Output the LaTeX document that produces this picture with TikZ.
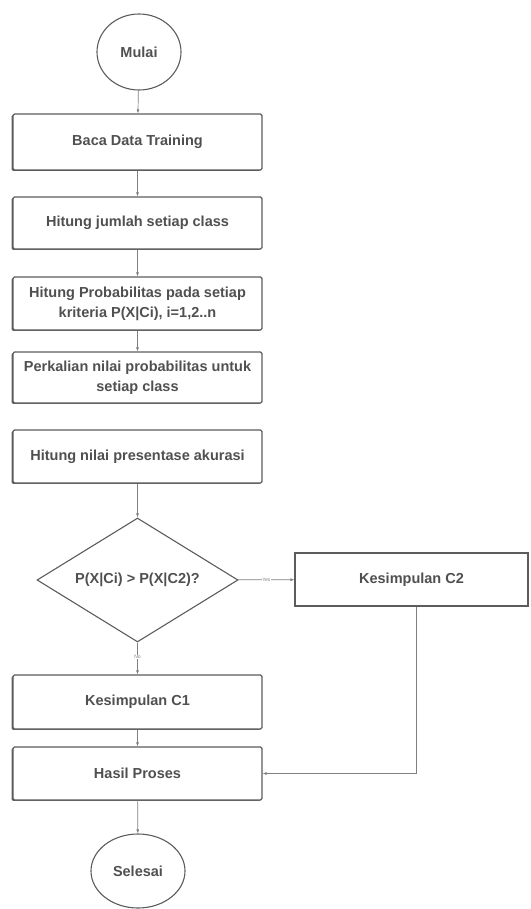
\documentclass[tikz,border=0pt]{standalone}
\usepackage{fontspec}
\setmainfont{Liberation Sans}
\usetikzlibrary{positioning,arrows.meta,shapes.geometric,shadows}
\definecolor{lnGray}{HTML}{808080}
\definecolor{txGray}{HTML}{505050}
\definecolor{bdGray}{HTML}{5C5C5C}

\begin{document}
\begin{tikzpicture}[x=1pt,y=1pt,
  every node/.style={font=\fontsize{14.5}{20}\selectfont\bfseries, text=txGray},
  procbox/.style={draw=bdGray, line width=1.1pt, rounded corners=1.5pt, fill=white, minimum width=249pt, align=center,
    drop shadow={shadow xshift=-1.4pt, shadow yshift=-0.9pt, fill=bdGray, opacity=1}},
  plainbox/.style={draw=bdGray, line width=1.1pt, fill=white, minimum width=233pt, minimum height=53pt},
  termnode/.style={draw=bdGray, line width=1.1pt, ellipse, inner sep=0pt},
  decnode/.style={draw=bdGray, line width=1.1pt, diamond, aspect=1.6, inner sep=0pt, minimum width=201pt, minimum height=124pt},
  flow/.style={draw=lnGray, line width=0.7pt, -{Latex[length=4pt,width=3pt]}},
  lbl/.style={font=\fontsize{5}{6}\selectfont, text=lnGray, fill=white, inner sep=0.6pt}]
\useasboundingbox (0,0) rectangle (530,-909);

% terminals
\node[termnode, minimum width=84pt, minimum height=76pt] (mulai) at (139,-52) {Mulai};
\node[termnode, minimum width=94pt, minimum height=74pt] (selesai) at (138,-871) {Selesai};

% process column
\foreach \nm/\yc/\hgt/\txt in {%
  baca/-142/56/{Baca Data Training},%
  jumlah/-223/52/{Hitung jumlah setiap class},%
  prob/-303.5/53/{Hitung Probabilitas pada setiap\\kriteria P(X|Ci), i=1,2..n},%
  kali/-377.5/51/{Perkalian nilai probabilitas untuk\\setiap class},%
  akurasi/-456.5/53/{Hitung nilai presentase akurasi}%
} {
  \node[procbox, minimum height=\hgt pt] (\nm) at (137.5,\yc) {\txt};
}

\node[decnode] (cek) at (137.5,-580) {P(X|Ci) > P(X|C2)?};
\node[plainbox] (ctwo) at (411.5,-579.5) {Kesimpulan C2};
\node[procbox, minimum height=54pt] (cone) at (137.5,-702) {Kesimpulan C1};
\node[procbox, minimum height=53pt] (hasil) at (137.5,-773.5) {Hasil Proses};

% connectors
\draw[flow] (mulai) -- (baca);
\draw[flow] (baca) -- (jumlah);
\draw[flow] (jumlah) -- (prob);
\draw[flow] (prob) -- (kali);
\draw[flow] (akurasi) -- (cek);
\draw[flow] (cek) -- node[lbl] {Yes} (ctwo);
\draw[flow] (cek) -- node[lbl, pos=0.45] {No} (cone);
\draw[flow] (cone) -- (hasil);
\draw[flow] ([xshift=5pt]ctwo.south) |- (hasil.east);
\draw[flow] (hasil) -- (selesai);
\end{tikzpicture}
\end{document}
